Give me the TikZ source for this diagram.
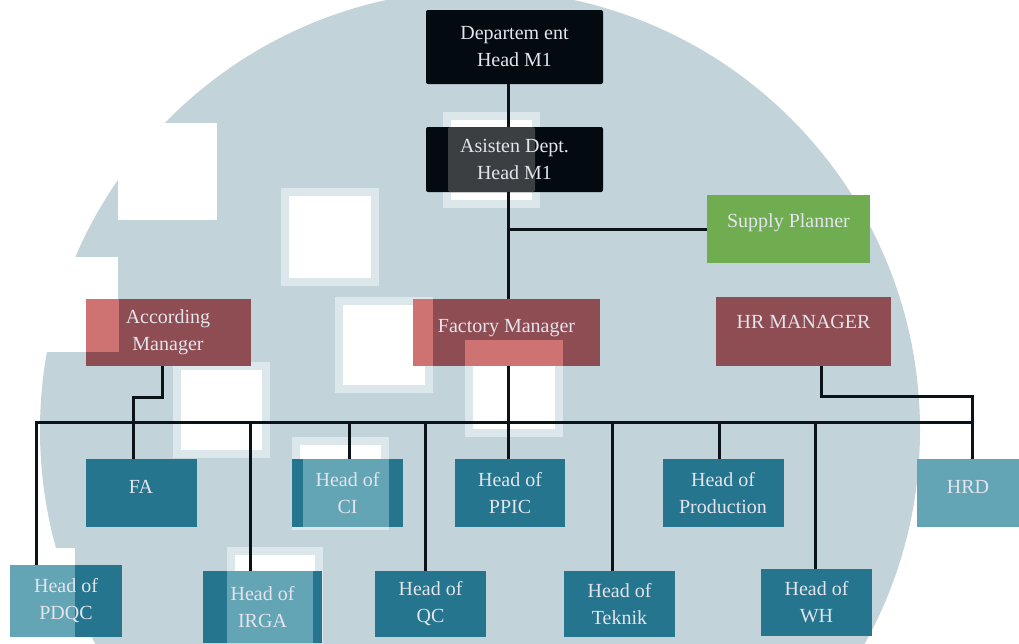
\documentclass[tikz,border=0pt]{standalone}
\usepackage{fontspec}
\setmainfont{Liberation Serif}
\usetikzlibrary{arrows}
\tikzset{>=latex}
\definecolor{bgblue}{HTML}{C2D3DA}
\definecolor{sqedge}{HTML}{DCE7EB}
\definecolor{boss}{HTML}{030B10}
\definecolor{bosslt}{HTML}{3B3F41}
\definecolor{mgr}{HTML}{8E4D52}
\definecolor{mgrlt}{HTML}{CF7272}
\definecolor{plan}{HTML}{70AD50}
\definecolor{unit}{HTML}{24758D}
\definecolor{unitlt}{HTML}{64A5B5}
\definecolor{label}{HTML}{E4E4EC}
\definecolor{wire}{HTML}{0A1418}

\begin{document}
\begin{tikzpicture}[x=1pt,y=-1pt,
	box/.style={rectangle, inner sep=0pt, text=label, align=center, font=\fontsize{20pt}{27pt}\selectfont},
	size/.style 2 args={minimum width=#1pt, minimum height=#2pt},
	one/.style 2 args={text height=#1pt, text depth=#2pt},
	head/.style={box, fill=boss, rounded corners=2pt},
	mgrbox/.style={box, fill=mgr},
	unitbox/.style={box, fill=unit},
	patch/.style={fill=white, draw=sqedge, line width=8pt},
	wire/.style={draw=wire, line width=3pt}]
	\useasboundingbox (0,0) rectangle (1019,643);
	\clip (0,0) rectangle (1019,643);
	% background disc and its white squares
	\fill[bgblue] (480,430) circle[radius=440];
	\foreach \a/\b/\c/\d in {281/188/379/286, 335/297/433/393, 173/362/270/458, 465/340/563/437, 292/437/389/530, 227/547/323/643, 443/112/540/208}
		\filldraw[patch] (\a+4,\b+4) rectangle (\c-4,\d-4);
	\foreach \a/\b/\c/\d in {-20/548/75/643, 118/123/217/220, 20/257/118/352}
		\fill[white] (\a,\b) rectangle (\c,\d);
	% top
	\node[head, size={177}{74}] (dept) at (514.5,47) {Departem ent\\Head M1};
	\node[head, size={177}{65}, path picture={\fill[bosslt] ([xshift=22pt]path picture bounding box.north west) rectangle ++(87,65);}] (asst) at (514.5,159.5) {Asisten Dept.\\Head M1};
	\node[box, fill=plan, size={163}{68}, one={32}{36}] (supply) at (788.5,229) {Supply Planner};
	% managers
	\node[mgrbox, size={165}{67}, path picture={\fill[mgrlt] (path picture bounding box.north west) rectangle ++(33,53);}] (acc) at (168,332.5) {According\\Manager};
	\node[mgrbox, size={187}{67}, one={33}{34}, path picture={\fill[mgrlt] (path picture bounding box.north west) rectangle ++(20,67); \fill[mgrlt] ([xshift=52pt,yshift=-41pt]path picture bounding box.north west) rectangle ++(98,26);}] (fm) at (506.5,332.5) {Factory Manager};
	\node[mgrbox, size={175}{69}, one={31}{38}] (hr) at (803.5,331.5) {HR MANAGER};
	% units, first row
	\node[unitbox, size={111}{68}, one={34}{34}] (fa) at (141,493) {FA};
	\node[unitbox, size={111}{68}, path picture={\fill[unitlt] ([xshift=11pt]path picture bounding box.north west) rectangle ++(86,68);}] (ci) at (347.5,493) {Head of\\CI};
	\node[unitbox, size={110}{68}] (ppic) at (510,493) {Head of\\PPIC};
	\node[unitbox, size={121}{68}] (prod) at (723,493) {Head of\\Production};
	\node[box, fill=unitlt, size={102}{68}, one={34}{34}] (hrd) at (968,493) {HRD};
	% units, second row
	\node[unitbox, size={112}{72}, path picture={\fill[unitlt] (path picture bounding box.north west) rectangle ++(65,72);}] (pdqc) at (66,601) {Head of\\PDQC};
	\node[unitbox, size={119}{72}, path picture={\fill[unitlt] ([xshift=24pt]path picture bounding box.north west) rectangle ++(86,72);}] (irga) at (262.5,607) {Head of\\IRGA};
	\node[unitbox, size={111}{66}] (qc) at (430.5,604) {Head of\\QC};
	\node[unitbox, size={111}{66}] (teknik) at (619.5,604) {Head of\\Teknik};
	\node[unitbox, size={111}{67}] (wh) at (816.5,602.5) {Head of\\WH};
	% connectors
	\coordinate (spine) at (508,0);
	\coordinate (bus) at (0,422);
	\coordinate (busL) at (36,422);
	\coordinate (busR) at (972,422);
	\coordinate (accjog) at (133,397);
	\coordinate (hrjog) at (972,396);
	\path[wire] (dept.south -| spine) -- (asst.north -| spine)
		(asst.south -| spine) -- (fm.north -| spine)
		(supply.west) -- (supply.west -| spine)
		(fm.south -| spine) -- (ppic.north -| spine)
		(busL |- pdqc.north) -- (busL) -- (busR)
		([xshift=-6pt]acc.south) |- (accjog) -- (accjog |- fa.north)
		([xshift=18pt]hr.south) |- (hrjog) -- (hrjog |- hrd.north);
	\foreach \n/\d in {irga/-12.5, ci/1.5, qc/-5.5, teknik/-7.5, prod/-4, wh/-1.5}
		\draw[wire] ([xshift=\d pt]\n.north) -- ([xshift=\d pt]\n.north |- bus);
\end{tikzpicture}
\end{document}
